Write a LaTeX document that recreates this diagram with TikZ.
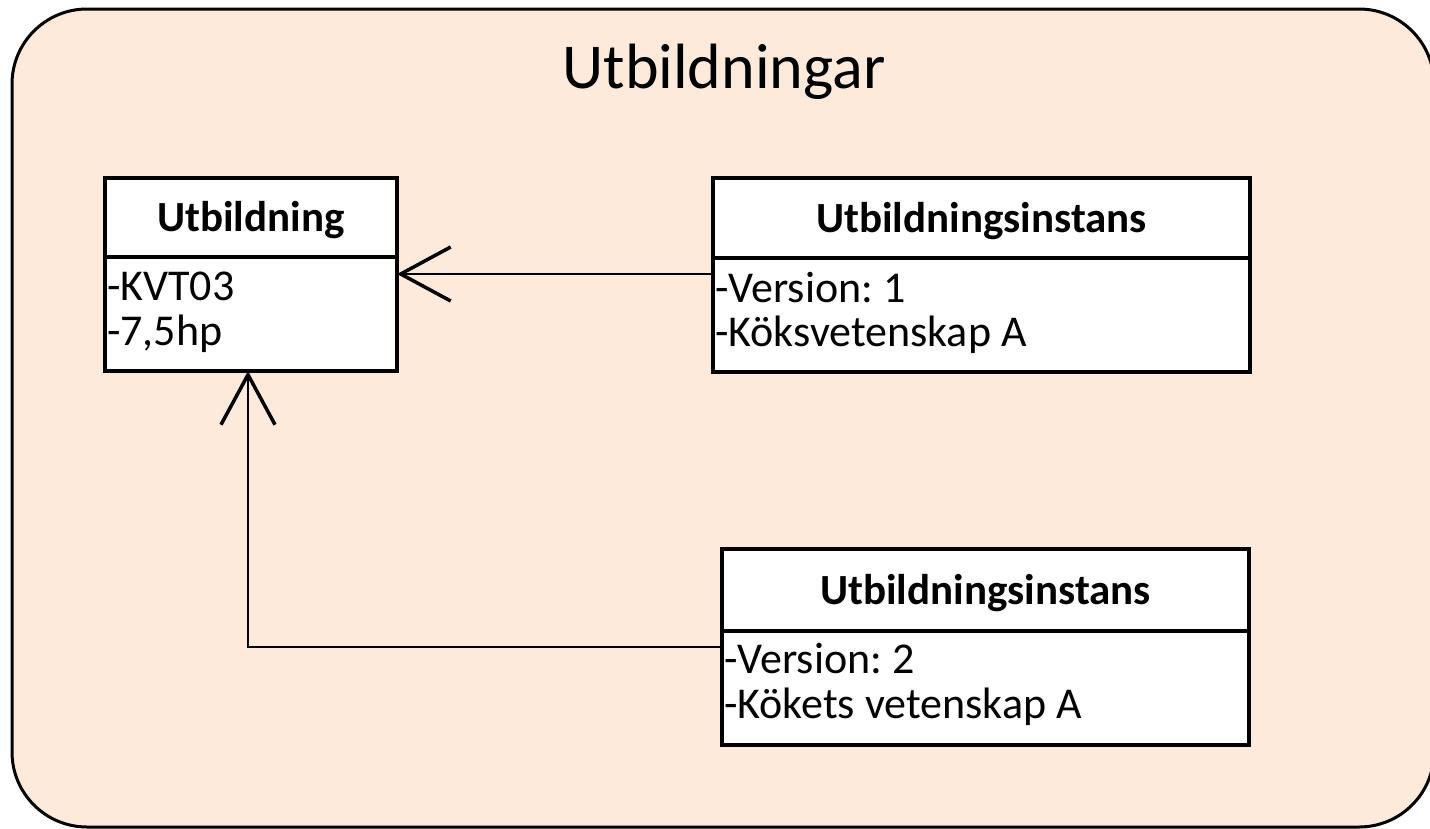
\documentclass[tikz,border=0pt]{standalone}
\usepackage{fontspec}
\setmainfont{Carlito}
\usetikzlibrary{arrows.meta}
\definecolor{peach}{HTML}{FDEADB}
\frenchspacing
\tikzset{
  box/.style={draw=black, line width=3.5pt, fill=white, anchor=north west, inner sep=0pt, outer sep=0pt},
  headtext/.style={font=\fontsize{43}{50}\selectfont\bfseries, inner sep=0pt, yshift=-3pt},
  attr/.style={font=\fontsize{44}{50}\selectfont, anchor=base west, inner sep=0pt},
  link/.style={line width=2pt, -{Straight Barb[length=50pt,width=54pt,line width=3.5pt]}}
}
\begin{document}
\begin{tikzpicture}[x=1pt,y=-1pt]
\useasboundingbox (0,0) rectangle (1430,828);
\draw[line width=3pt, fill=peach, rounded corners=75pt] (12,9) rectangle (1434,827);
\node[font=\fontsize{64}{76}\selectfont, inner sep=0pt] (title) at (724,72) {Utbildningar};
% Box 1
\node[box, minimum width=292pt, minimum height=79pt] (u1h) at (105,178) {};
\node[box, minimum width=292pt, minimum height=114pt] (u1b) at (105,257) {};
\node[headtext] (u1t) at (u1h.center) {Utbildning};
\node[attr] (u1a) at (107,300) {-KVT03};
\node[attr] (u1c) at (107,345) {-7,5hp};
% Box 2
\node[box, minimum width=537pt, minimum height=80pt] (u2h) at (713,178) {};
\node[box, minimum width=537pt, minimum height=114pt] (u2b) at (713,258) {};
\node[headtext] (u2t) at (u2h.center) {Utbildningsinstans};
\node[attr] (u2a) at (715,302) {-Version: 1};
\node[attr] (u2c) at (715,346) {-Köksvetenskap A};
% Box 3
\node[box, minimum width=527pt, minimum height=82pt] (u3h) at (722,549) {};
\node[box, minimum width=527pt, minimum height=114pt] (u3b) at (722,631) {};
\node[headtext] (u3t) at (u3h.center) {Utbildningsinstans};
\node[attr] (u3a) at (724,673) {-Version: 2};
\node[attr] (u3c) at (724,718) {-Kökets vetenskap A};
% Connectors
\coordinate (c1) at (713,274);
\coordinate (c2) at (722,647);
\coordinate (t2) at (248,371);
\draw[link] (c1) -- (u1b.east |- c1);
\draw[link] (c2) -| (t2);
\end{tikzpicture}
\end{document}
